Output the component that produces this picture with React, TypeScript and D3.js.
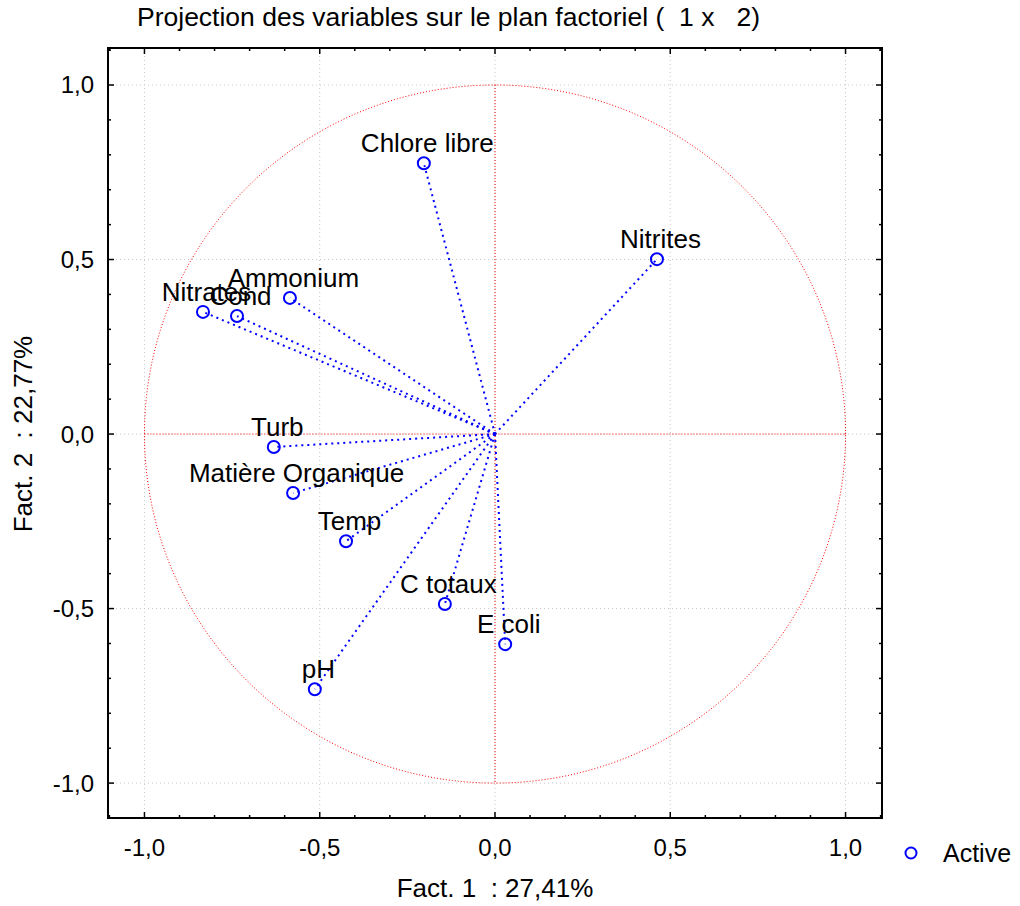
import React from "react";
import * as d3 from "d3";

const variables = ["Chlore libre", "Nitrites", "Ammonium", "Cond", "Nitrates", "Turb", "Matière Organique", "Temp", "C totaux", "E coli", "pH"];
const fact1 = [-0.203, 0.462, -0.585, -0.736, -0.833, -0.631, -0.576, -0.425, -0.143, 0.029, -0.514];
const fact2 = [0.776, 0.501, 0.39, 0.338, 0.35, -0.037, -0.169, -0.307, -0.487, -0.602, -0.731];
const majorTicks = [-1, -0.5, 0, 0.5, 1];
const minorTicks = d3.range(-11, 12).map((i) => i / 10);
const title = "Projection des variables sur le plan factoriel (  1 x   2)";
const xLabel = "Fact. 1  : 27,41%";
const yLabel = "Fact. 2  : 22,77%";
const legendLabel = "Active";

const W = 1020, H = 906;
const L = 108, R = 882, T = 48, B = 818;
const FONT = "'Liberation Sans', Arial, sans-serif";

export default function App() {
  const x = d3.scaleLinear().domain([-1.104, 1.104]).range([L, R]);
  const y = d3.scaleLinear().domain([-1.1, 1.106]).range([B, T]);
  const fmt = (v: number) => d3.format(".1f")(v).replace(".", ",").replace("−", "-");
  const circle = d3.range(0, 361, 1).map((a) => [x(Math.cos((a * Math.PI) / 180)), y(Math.sin((a * Math.PI) / 180))] as [number, number]);
  const circlePath = d3.line()(circle) || "";
  const isMajor = (t: number) => Math.abs(t * 2 - Math.round(t * 2)) < 1e-6;
  const blue = "#0000ff";
  return (
    <svg width={W} height={H} style={{ position: "absolute", left: 0, top: 0, background: "#fff" }} fontFamily={FONT}>
      <rect x={0} y={0} width={W} height={H} fill="#fff" />
      <text x={137} y={26} fontSize={26.5} style={{ whiteSpace: "pre" }}>{title}</text>
      {/* gridlines */}
      {majorTicks.map((t) => (
        <g key={"g" + t}>
          <line x1={x(t)} x2={x(t)} y1={T} y2={B} stroke="#c8c8c8" strokeWidth={1} strokeDasharray="1,3" />
          <line x1={L} x2={R} y1={y(t)} y2={y(t)} stroke="#c8c8c8" strokeWidth={1} strokeDasharray="1,3" />
        </g>
      ))}
      {/* unit circle and axes */}
      <path d={circlePath} fill="none" stroke="#ff0000" strokeWidth={1} strokeDasharray="1,2" />
      <line x1={x(0)} x2={x(0)} y1={y(1)} y2={y(-1)} stroke="#ff0000" strokeWidth={1} strokeDasharray="1,2" />
      <line x1={x(-1)} x2={x(1)} y1={y(0)} y2={y(0)} stroke="#ff0000" strokeWidth={1} strokeDasharray="1,2" />
      {/* vectors */}
      {variables.map((v, i) => (
        <line key={"l" + v} x1={x(0)} y1={y(0)} x2={x(fact1[i])} y2={y(fact2[i])} stroke={blue} strokeWidth={2} strokeDasharray="2,4" />
      ))}
      {variables.map((v, i) => (
        <circle key={"c" + v} cx={x(fact1[i])} cy={y(fact2[i])} r={6} fill="none" stroke={blue} strokeWidth={2} />
      ))}
      {variables.map((v, i) => (
        <text key={"t" + v} x={x(fact1[i]) + 3.5} y={y(fact2[i]) - 11} fontSize={26} textAnchor="middle">{v}</text>
      ))}
      {/* frame */}
      <rect x={L} y={T} width={R - L} height={B - T} fill="none" stroke="#000" strokeWidth={2} />
      {/* ticks */}
      {minorTicks.filter((t) => x(t) > L + 1 && x(t) < R - 1).map((t) => {
        const len = isMajor(t) ? 6 : 3;
        return (
          <g key={"tx" + t} stroke="#000" strokeWidth={1.5}>
            <line x1={x(t)} x2={x(t)} y1={B} y2={B - len} />
            <line x1={x(t)} x2={x(t)} y1={T} y2={T + len} />
          </g>
        );
      })}
      {minorTicks.filter((t) => y(t) > T + 1 && y(t) < B - 1).map((t) => {
        const len = isMajor(t) ? 6 : 3;
        return (
          <g key={"ty" + t} stroke="#000" strokeWidth={1.5}>
            <line x1={L} x2={L + len} y1={y(t)} y2={y(t)} />
            <line x1={R} x2={R - len} y1={y(t)} y2={y(t)} />
          </g>
        );
      })}
      {majorTicks.map((t) => (
        <text key={"xl" + t} x={x(t)} y={856} fontSize={24} textAnchor="middle">{fmt(t)}</text>
      ))}
      {majorTicks.map((t) => (
        <text key={"yl" + t} x={94} y={y(t) + 8.5} fontSize={24} textAnchor="end">{fmt(t)}</text>
      ))}
      <text x={495} y={897} fontSize={26} textAnchor="middle" style={{ whiteSpace: "pre" }}>{xLabel}</text>
      <text transform={`translate(32,${y(0)}) rotate(-90)`} fontSize={26} textAnchor="middle" style={{ whiteSpace: "pre" }}>{yLabel}</text>
      {/* legend */}
      <circle cx={911} cy={853} r={5.5} fill="none" stroke={blue} strokeWidth={2} />
      <text x={943} y={862} fontSize={25}>{legendLabel}</text>
    </svg>
  );
}
